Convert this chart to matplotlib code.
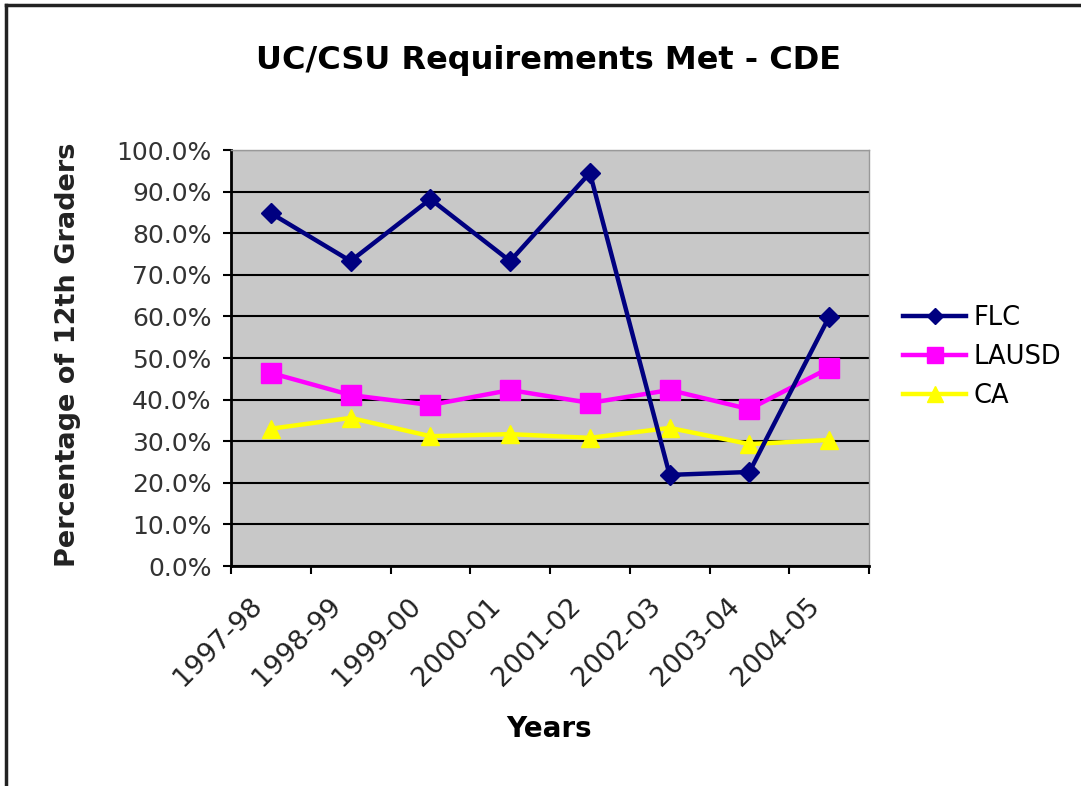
import matplotlib
matplotlib.use("Agg")
import matplotlib.pyplot as plt
from matplotlib.lines import Line2D
from matplotlib.transforms import ScaledTranslation, blended_transform_factory

years = ["1997-98", "1998-99", "1999-00", "2000-01", "2001-02", "2002-03", "2003-04", "2004-05"]
flc = [84.8, 73.3, 88.2, 73.3, 94.5, 21.9, 22.6, 59.9]
lausd = [46.4, 41.1, 38.7, 42.3, 39.2, 42.3, 37.7, 47.6]
ca = [33.0, 35.6, 31.2, 31.7, 30.8, 33.2, 29.3, 30.3]
yticks = [0, 10, 20, 30, 40, 50, 60, 70, 80, 90, 100]

W, H = 1081, 786
fig = plt.figure(figsize=(W / 100, H / 100), dpi=100)
ax = fig.add_axes([231 / W, 1 - 566 / H, (869 - 231) / W, (566 - 150) / H])
ax.set_facecolor("#c8c8c8")

x = list(range(len(years)))
ax.plot(x, flc, color="#000080", lw=3.2, marker="D", ms=10, label="FLC", zorder=5)
ax.plot(x, lausd, color="#ff00ff", lw=3.2, marker="s", ms=14, label="LAUSD", zorder=4)
ax.plot(x, ca, color="#ffff00", lw=3.2, marker="^", ms=13, label="CA", zorder=3)

ax.set_xlim(-0.5, len(years) - 0.5)
ax.set_ylim(0, 100)
ax.set_yticks(yticks)
ax.set_yticklabels([f"{v:.1f}%" for v in yticks], fontsize=18, color="#333333")
ax.yaxis.grid(True, color="black", lw=1.5)
ax.set_axisbelow(True)

ax.set_xticks([i - 0.5 for i in range(len(years) + 1)])
ax.set_xticklabels([])
ax.tick_params(axis="both", direction="out", length=6, width=1.5, color="black")
ax.tick_params(axis="y", pad=8)
for s in ["top", "right"]:
    ax.spines[s].set_color("#999999")
    ax.spines[s].set_linewidth(1)
for s in ["left", "bottom"]:
    ax.spines[s].set_color("black")
    ax.spines[s].set_linewidth(2)

trans = blended_transform_factory(ax.transData, ax.transAxes) + ScaledTranslation(-13 / 100, -36 / 100, fig.dpi_scale_trans)
for i, lab in enumerate(years):
    ax.text(i, 0, lab, transform=trans, rotation=45, rotation_mode="anchor",
            ha="right", va="center", fontsize=19.5, color="#222222")

fig.text(549 / W, 1 - 729 / H, "Years", ha="center", va="center", fontsize=20, fontweight="bold")
fig.text(68 / W, 1 - 355 / H, "Percentage of 12th Graders", rotation=90, ha="center", va="center",
         fontsize=19.5, fontweight="bold", color="#222222")
fig.text(549 / W, 1 - 60 / H, "UC/CSU Requirements Met - CDE", ha="center", va="center",
         fontsize=23, fontweight="bold")

handles = [
    Line2D([], [], color="#000080", lw=3.2, marker="D", ms=8),
    Line2D([], [], color="#ff00ff", lw=3.2, marker="s", ms=12),
    Line2D([], [], color="#ffff00", lw=3.2, marker="^", ms=11),
]
fig.legend(handles, ["FLC", "LAUSD", "CA"], loc="center left",
           bbox_to_anchor=(880 / W, 1 - 357 / H), frameon=False, fontsize=18.5,
           handlelength=2.45, handletextpad=0.3, labelspacing=0.5)

# outer chart border (top and left visible)
fig.add_artist(Line2D([6 / W, 6 / W], [0, 1 - 5 / H], transform=fig.transFigure, color="#222222", lw=2.5))
fig.add_artist(Line2D([6 / W, 1], [1 - 5 / H, 1 - 5 / H], transform=fig.transFigure, color="#222222", lw=2.5))

fig.savefig("out.png", dpi=100)
